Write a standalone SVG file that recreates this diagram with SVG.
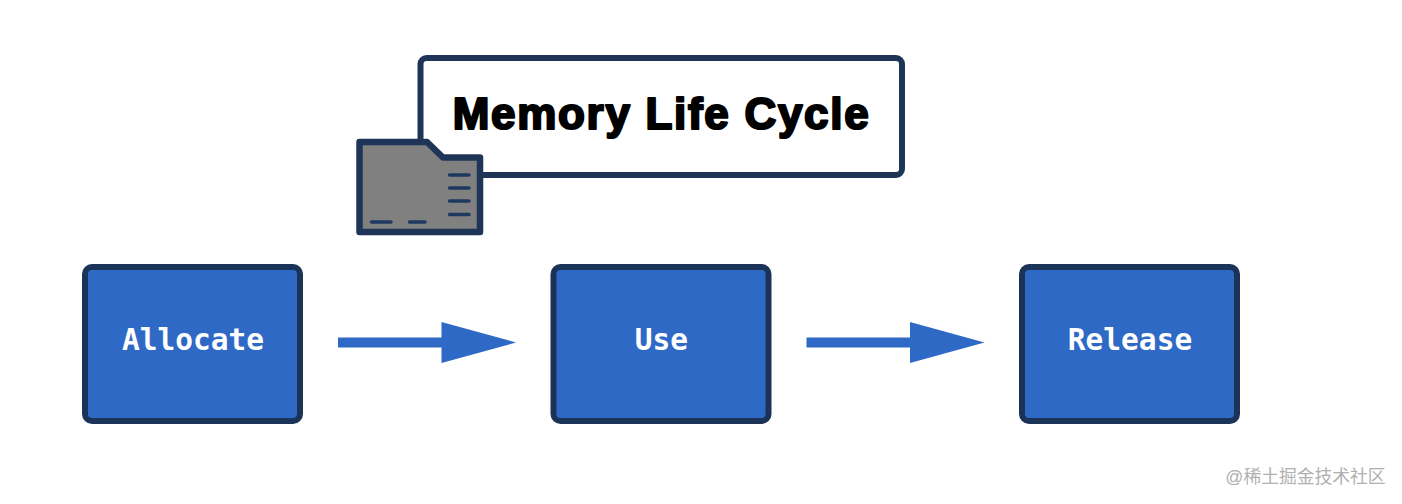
<svg xmlns="http://www.w3.org/2000/svg" width="1402" height="504" viewBox="0 0 1402 504">
<style>
.box{fill:#2f69c6;stroke:#1c3358;stroke-width:6}
.lbl{font-family:"DejaVu Sans Mono","Liberation Mono",monospace;font-weight:700;font-size:29.5px;fill:#fff;text-anchor:middle}
.tick{stroke:#1f3a61;stroke-width:3.500;stroke-linecap:round;fill:none}
.arrow{fill:#2f69c6}
</style>
<defs><path id="arr" class="arrow" d="M0 -5H103.500V-20.500L178 0L103.500 20.500V5H0Z"/></defs>
<rect width="1402" height="504" fill="#fff"/>
<g id="title">
<rect x="420.500" y="58" width="481.500" height="117" rx="6" fill="#fff" stroke="#1f3558" stroke-width="6"/>
<text x="661.500" y="129" text-anchor="middle" font-family="'Liberation Sans',Arial,sans-serif" font-weight="700" font-size="44px" letter-spacing="1.700" fill="#000" stroke="#000" stroke-width="2.200" stroke-linejoin="round">Memory Life Cycle</text>
</g>
<g id="folder">
<path d="M359.500 142H427L443 157.500H480V232H359.500Z" fill="#808080" stroke="#1f3558" stroke-width="6.500" stroke-linejoin="round"/>
<path class="tick" d="M449.500 175H469M449.500 188H469M449.500 201H469M449.500 214.500H469M371.500 222H391M409.500 222H425"/>
</g>
<g id="allocate"><rect class="box" x="85" y="267" width="215" height="154" rx="7"/><text class="lbl" x="193" y="350">Allocate</text></g>
<g id="use"><rect class="box" x="553.500" y="267" width="215" height="154" rx="7"/><text class="lbl" x="661.500" y="350">Use</text></g>
<g id="release"><rect class="box" x="1022" y="267" width="215" height="154" rx="7"/><text class="lbl" x="1130" y="350">Release</text></g>
<g id="connectors">
<use href="#arr" x="338" y="342.500"/>
<use href="#arr" x="806.500" y="342.500"/>
</g>
<text x="1305.500" y="483" text-anchor="middle" font-family="'Liberation Sans','Noto Sans CJK SC',sans-serif" font-size="17.800px" fill="#b0b0b0">@稀土掘金技术社区</text>
</svg>
